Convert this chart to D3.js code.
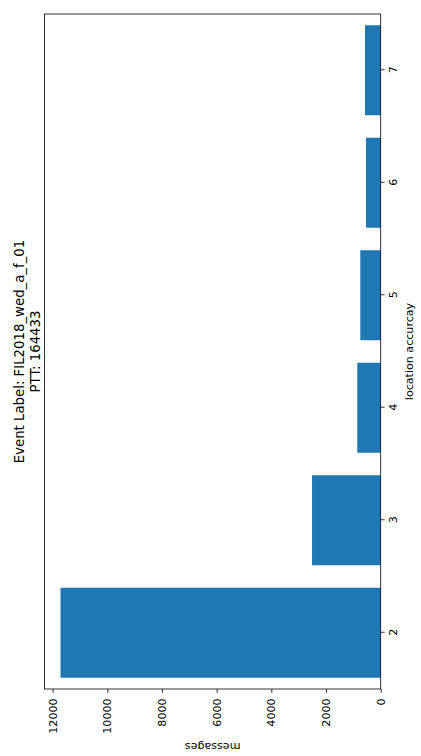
<!DOCTYPE html>
<html>
<head>
<meta charset="utf-8">
<script src="https://cdn.jsdelivr.net/npm/d3@7"></script>
<style>
  body { margin: 0; background: #fff; }
  text { font-family: "DejaVu Sans", sans-serif; }
</style>
</head>
<body>
<script>
// data
var accuracy = [2, 3, 4, 5, 6, 7];
var messages = [11711, 2512, 856, 746, 537, 574];
var valueTicks = [0, 2000, 4000, 6000, 8000, 10000, 12000];
var titleLines = ["Event Label: FIL2018_wed_a_f_01", "PTT: 164433"];

var width = 421;
var height = 756;

// the figure is drawn the usual way in a 756 x 421 frame, then turned a quarter left
var W = height, H = width;
var margin = {left: 67, right: 14, top: 44.5, bottom: 40.3};

var svg = d3.select("body")
            .append("svg")
            .attr("width", width)
            .attr("height", height);

var g = svg.append("g")
           .attr("transform", "translate(0," + height + ") rotate(-90)");

var x = d3.scaleLinear()
          .domain([1.5, 7.5])
          .range([margin.left, W - margin.right]);

var y = d3.scaleLinear()
          .domain([0, d3.max(messages) * 1.05])
          .range([H - margin.bottom, margin.top]);

var barW = (x(1.4) - x(0.6));

g.selectAll("rect.bar")
 .data(accuracy)
 .enter()
 .append("rect")
 .attr("class", "bar")
 .attr("x", function(d) { return x(d) - barW / 2; })
 .attr("width", barW)
 .attr("y", function(d, i) { return y(messages[i]); })
 .attr("height", function(d, i) { return y(0) - y(messages[i]); })
 .style("fill", "#1f77b4");

// frame
g.append("rect")
 .attr("x", margin.left)
 .attr("y", margin.top)
 .attr("width", W - margin.left - margin.right)
 .attr("height", H - margin.top - margin.bottom)
 .style("fill", "none")
 .style("stroke", "#000")
 .style("stroke-width", 0.8);

var xAxis = g.append("g")
             .attr("transform", "translate(0," + (H - margin.bottom) + ")")
             .call(d3.axisBottom(x).tickValues(accuracy).tickFormat(d3.format("d"))
                     .tickSize(3.9).tickSizeOuter(0).tickPadding(4.5));

var yAxis = g.append("g")
             .attr("transform", "translate(" + margin.left + ",0)")
             .call(d3.axisLeft(y).tickValues(valueTicks).tickFormat(d3.format("d"))
                     .tickSize(3.9).tickSizeOuter(0).tickPadding(5.5));

[xAxis, yAxis].forEach(function(a) {
    a.select(".domain").remove();
    a.selectAll("line").style("stroke", "#000").style("stroke-width", 0.8);
    a.selectAll("text").style("font-family", "DejaVu Sans").style("font-size", "11.1px").style("fill", "#000");
});

var cx = (margin.left + W - margin.right) / 2;
var cy = (margin.top + H - margin.bottom) / 2;

g.append("text")
 .attr("x", cx)
 .attr("y", 413)
 .attr("text-anchor", "middle")
 .style("font-size", "11.1px")
 .text("location accurcay");

g.append("text")
 .attr("transform", "translate(13," + cy + ") rotate(-90)")
 .attr("text-anchor", "middle")
 .style("font-size", "11.1px")
 .text("messages");

g.selectAll("text.title")
 .data(titleLines)
 .enter()
 .append("text")
 .attr("class", "title")
 .attr("x", cx)
 .attr("y", function(d, i) { return 24 + i * 16; })
 .attr("text-anchor", "middle")
 .style("font-size", "13.3px")
 .text(function(d) { return d; });
</script>
</body>
</html>
